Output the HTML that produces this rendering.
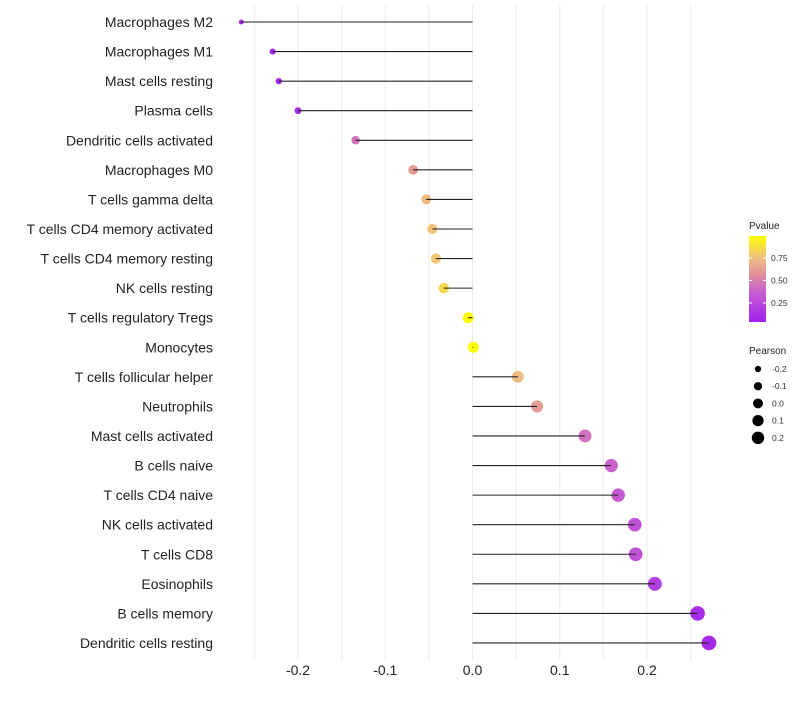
<!DOCTYPE html>
<html><head><meta charset="utf-8"><style>
body{margin:0;background:#fff;font-family:"Liberation Sans",sans-serif}
svg text{font-family:"Liberation Sans",sans-serif}
</style></head><body>
<svg id="chart" width="800" height="700">
<defs><linearGradient id="pg" x1="0" y1="1" x2="0" y2="0">
<stop offset="0" stop-color="#a020f0"/><stop offset="0.35" stop-color="#c860d0"/><stop offset="0.55" stop-color="#e0909a"/><stop offset="0.75" stop-color="#f0c080"/><stop offset="1" stop-color="#ffff00"/></linearGradient></defs>
<g id="grid"></g><g id="marks"></g><g id="labels"></g><g id="legend"></g>
</svg>
<script>
const categories=["Macrophages M2","Macrophages M1","Mast cells resting","Plasma cells","Dendritic cells activated","Macrophages M0","T cells gamma delta","T cells CD4 memory activated","T cells CD4 memory resting","NK cells resting","T cells regulatory  Tregs ","Monocytes","T cells follicular helper","Neutrophils","Mast cells activated","B cells naive","T cells CD4 naive","NK cells activated","T cells CD8","Eosinophils","B cells memory","Dendritic cells resting"];
const pearson=[-0.265,-0.229,-0.222,-0.200,-0.134,-0.068,-0.053,-0.046,-0.042,-0.033,-0.005,0.001,0.052,0.074,0.129,0.159,0.167,0.186,0.187,0.209,0.258,0.271];
const pvalue=[0.05,0.05,0.05,0.06,0.42,0.6,0.73,0.76,0.78,0.85,0.99,0.99,0.73,0.6,0.42,0.36,0.32,0.27,0.27,0.17,0.07,0.05];
const xTicks=[-0.2,-0.1,0.0,0.1,0.2];
const xTickLabels=["-0.2","-0.1","0.0","0.1","0.2"];
const legendSizes=[-0.2,-0.1,0.0,0.1,0.2];
const legendSizeLabels=["-0.2","-0.1","0.0","0.1","0.2"];
const legendP=[0.25,0.5,0.75];
const legendPLabels=["0.25","0.50","0.75"];
const NS="http://www.w3.org/2000/svg";
const X=v=>472.5+v*872.5;
const Y=i=>22+i*29.57;
const R=p=>Math.sqrt(Math.max(2,30+90*p));
function lerp(a,b,t){return a.map((c,i)=>Math.round(c+(b[i]-c)*t));}
function col(p){const st=[[0,[160,32,240]],[0.35,[200,96,208]],[0.55,[224,144,154]],[0.75,[240,192,128]],[1,[255,255,0]]];
for(let i=0;i<st.length-1;i++){if(p<=st[i+1][0]){const t=(p-st[i][0])/(st[i+1][0]-st[i][0]);const c=lerp(st[i][1],st[i+1][1],t);return`rgb(${c})`;}}return"rgb(255,255,0)";}
function mk(tag,attrs,parent,txt){const e=document.createElementNS(NS,tag);for(const k in attrs)e.setAttribute(k,attrs[k]);if(txt!==undefined)e.textContent=txt;document.getElementById(parent).appendChild(e);return e;}
for(let v=-0.25;v<=0.2501;v+=0.05){
const g=mk("line",{x1:X(v),x2:X(v),y1:5,y2:660,stroke:"#ebebeb","stroke-width":1},"grid");

}
xTicks.forEach((v,i)=>{
const t=mk("text",{x:X(v),y:675,"text-anchor":"middle","font-size":14,fill:"#222"},"labels",xTickLabels[i]);

});
categories.forEach((c,i)=>{
const t=mk("text",{x:213,y:Y(i)+5,"text-anchor":"end","font-size":14,fill:"#222"},"labels",c);


const d=mk("circle",{cx:X(pearson[i]),cy:Y(i),r:R(pearson[i]),fill:col(pvalue[i])},"marks");


const l=mk("line",{x1:X(0),x2:X(pearson[i]),y1:Y(i),y2:Y(i),stroke:"#222","stroke-width":1.1},"marks");

});
// legend
const pt=mk("text",{x:749,y:229,"font-size":10,fill:"#222"},"legend","Pvalue");


const bar=mk("rect",{x:749,y:236,width:17,height:86,fill:"url(#pg)"},"legend");


const PY=p=>325.5-p*90;
legendP.forEach((p,i)=>{
mk("line",{x1:749,x2:752,y1:PY(p),y2:PY(p),stroke:"#fff"},"legend");
mk("line",{x1:763,x2:766,y1:PY(p),y2:PY(p),stroke:"#fff"},"legend");
const t=mk("text",{x:771,y:PY(p)+3,"font-size":8.5,fill:"#333"},"legend",legendPLabels[i]);

});
const st=mk("text",{x:749,y:354,"font-size":10,fill:"#222"},"legend","Pearson");


legendSizes.forEach((s,i)=>{
const y=369+i*17.2;
const c=mk("circle",{cx:758,cy:y,r:R(s)*0.9,fill:"#000"},"legend");


const t=mk("text",{x:772,y:y+3,"font-size":8.5,fill:"#333"},"legend",legendSizeLabels[i]);

});
</script>
</body></html>
